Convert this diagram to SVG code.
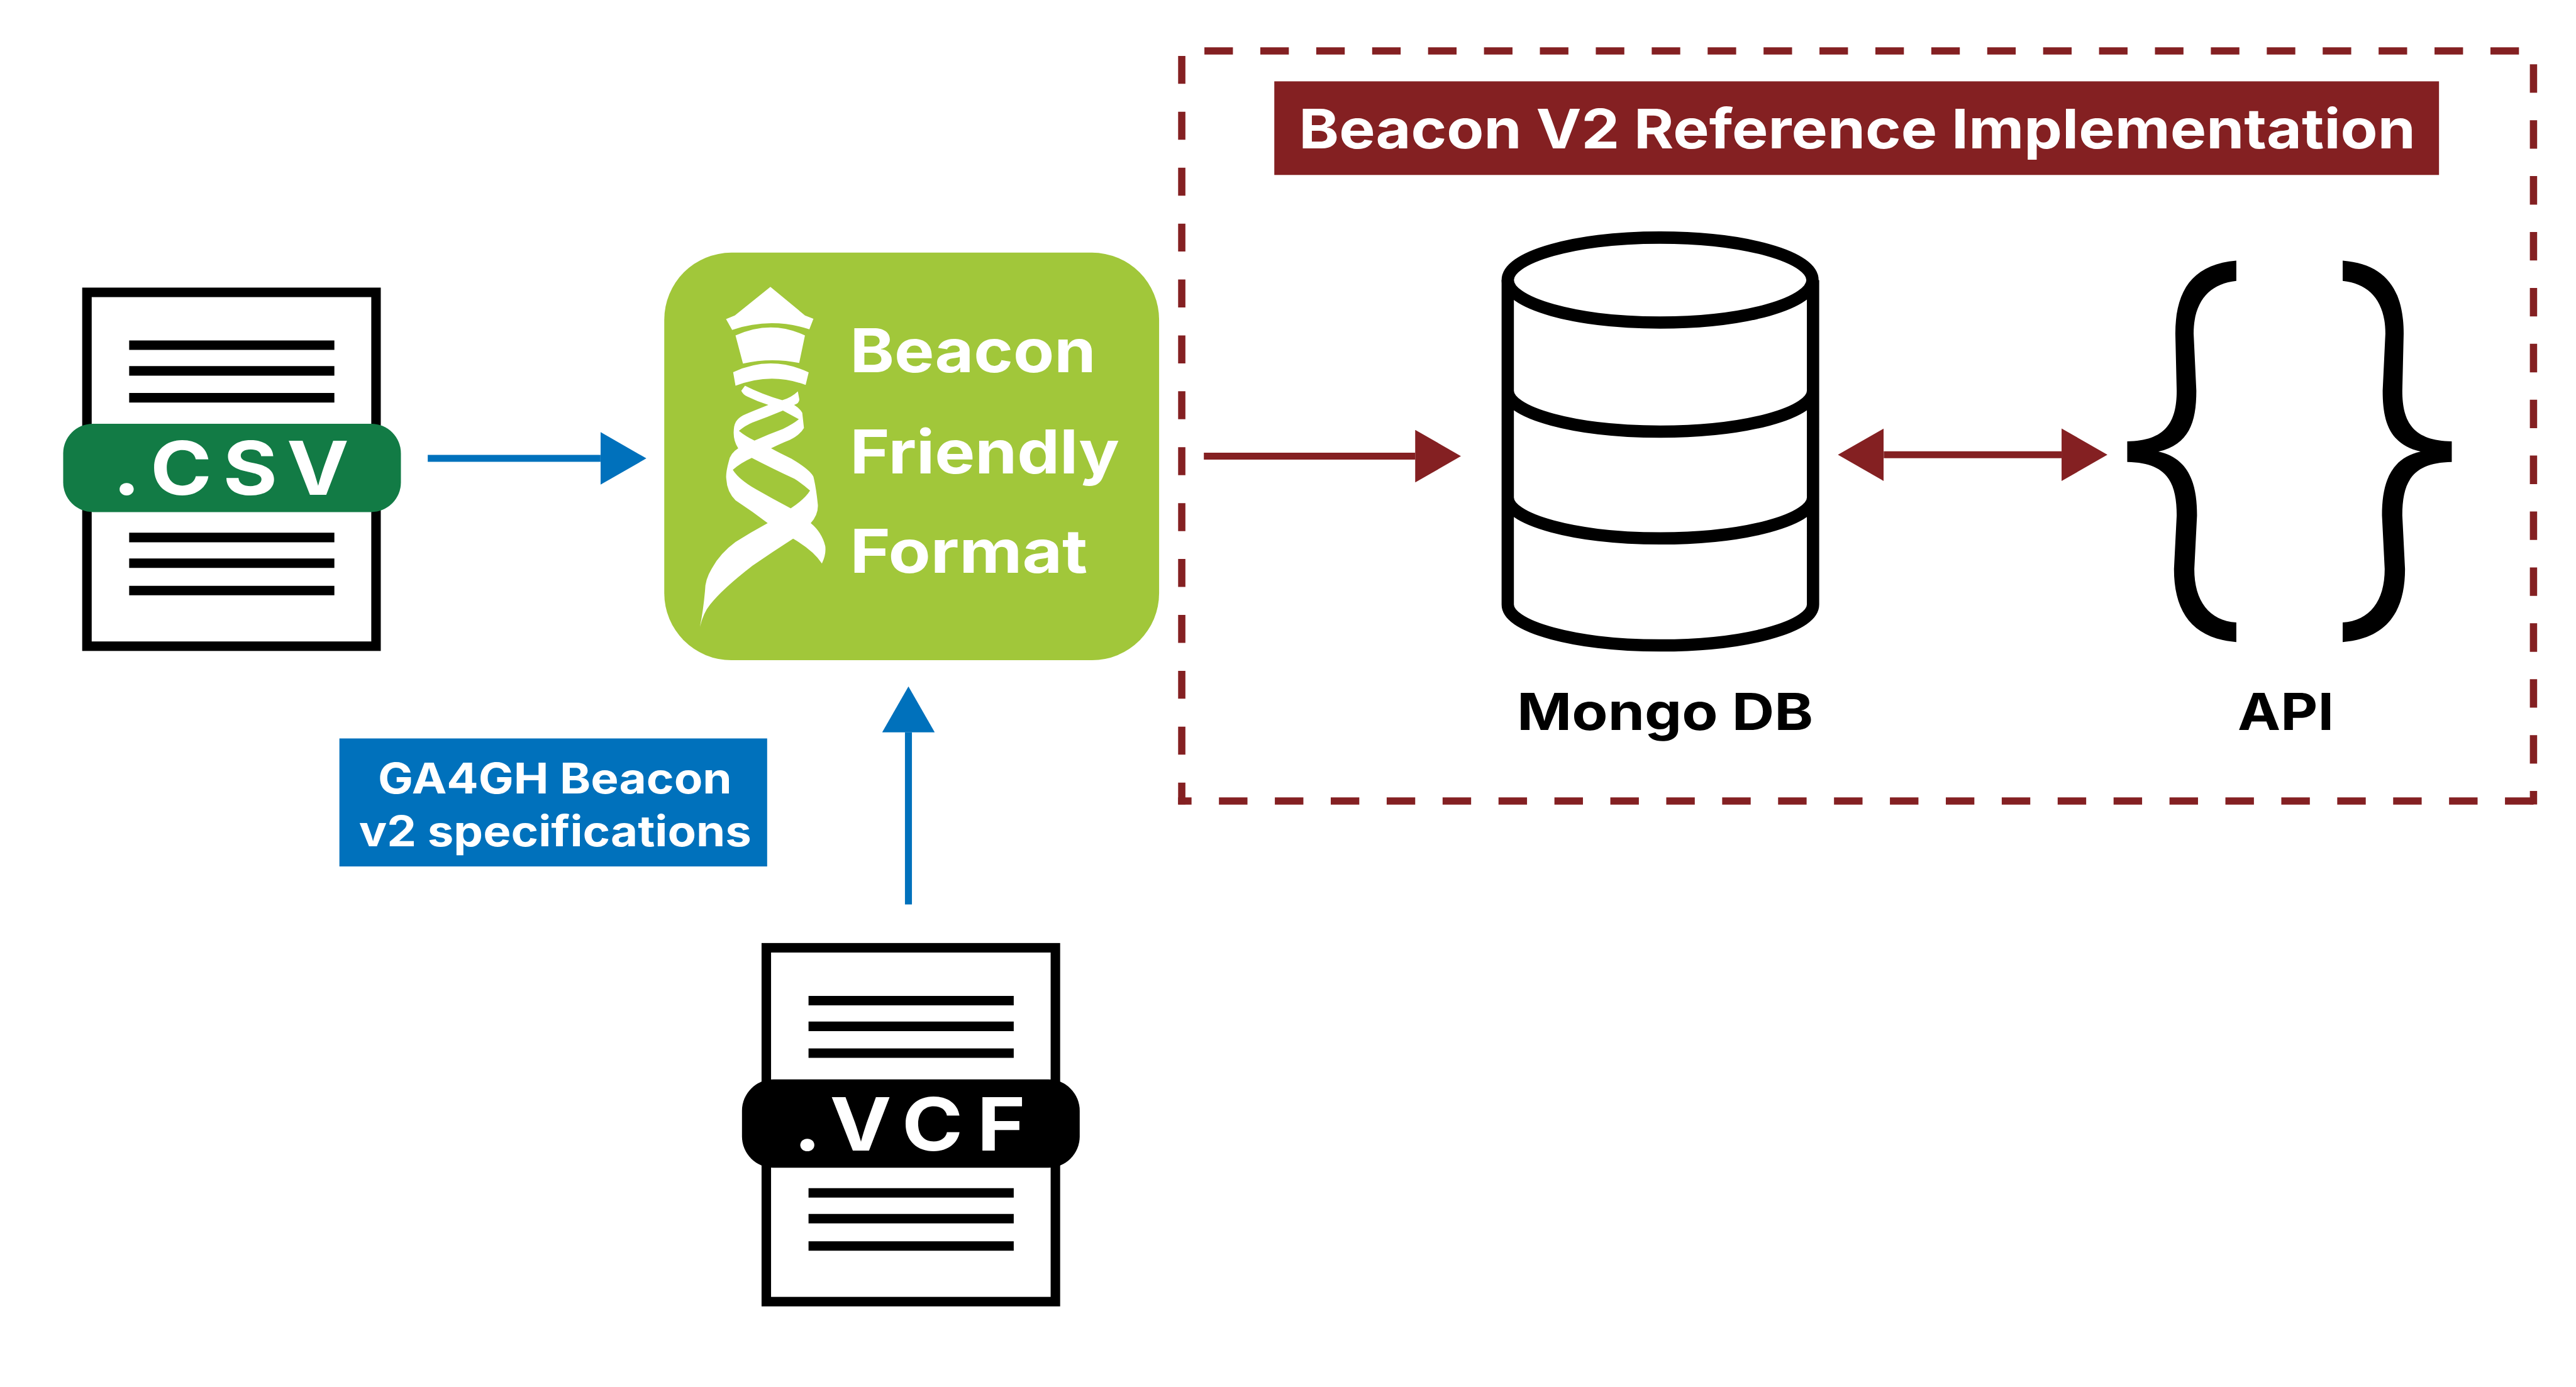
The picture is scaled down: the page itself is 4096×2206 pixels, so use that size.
<svg xmlns="http://www.w3.org/2000/svg" xmlns:xlink="http://www.w3.org/1999/xlink" width="4096" height="2206" viewBox="0 0 4096 2206">
<style>
text{font-family:Inter,"Liberation Sans",sans-serif;font-weight:700}
.w{fill:#fff}.k{fill:#000}
.b{stroke:#0071BC;stroke-width:12.5;fill:none}
.r{stroke:#842022;stroke-width:12.5;fill:none}
.dash{stroke:#842022;stroke-width:13;fill:none}
.cyl{stroke:#000;stroke-width:22;fill:none}
</style>
<defs>
<marker id="hb" markerUnits="userSpaceOnUse" viewBox="0 0 82 94" refX="0" refY="47" markerWidth="82" markerHeight="94" orient="auto-start-reverse"><path d="M0 0L82 47L0 94Z" fill="#0071BC"/></marker>
<marker id="hr" markerUnits="userSpaceOnUse" viewBox="0 0 82 94" refX="0" refY="47" markerWidth="82" markerHeight="94" orient="auto-start-reverse"><path d="M0 0L82 47L0 94Z" fill="#842022"/></marker>
<g id="doc">
<rect x="155.5" y="523" width="517" height="633" fill="#fff" stroke="#000" stroke-width="17"/>
<path d="M231 609h367v17h-367zM231 655h367v17h-367zM231 703h367v17h-367zM231 953h367v17h-367zM231 999h367v17h-367zM231 1048h367v17h-367z"/>
</g>
<path id="brace" d="M1155 135C1090 145 1065 220 1065 340L1067 500C1067 590 1050 640 994 642L994 700C1050 702 1067 750 1067 850L1063 1000C1063 1120 1090 1195 1155 1205L1155 1150C1115 1145 1093 1090 1093 1000L1097 850C1097 760 1085 690 1040 671C1085 650 1096 590 1096 500L1092 340C1092 250 1115 200 1155 192Z"/>
</defs>
<g transform="scale(0.88908)">
<g id="frame">
<path class="dash" stroke-dasharray="51 49" d="M2154 91H4506"/>
<path class="dash" stroke-dasharray="50 50" d="M2113.5 100V1439"/>
<path class="dash" stroke-dasharray="51 49" d="M4531 115V1439"/>
<path class="dash" stroke-dasharray="51 49" stroke-dashoffset="27" d="M2107 1433H4538"/>
</g>
<g id="title">
<rect x="2279" y="145.5" width="2083" height="167.5" fill="#842022"/>
<text class="w" x="2323" y="266" font-size="98" textLength="1997" lengthAdjust="spacingAndGlyphs">Beacon V2 Reference Implementation</text>
</g>
<g id="csv">
<use href="#doc"/>
<rect x="113" y="758" width="604" height="158" rx="53" fill="#127B45"/>
<text class="w" transform="translate(0 885) scale(1.12 1)" font-size="133" x="180 240 356 458" y="0">.CSV</text>
</g>
<g id="vcf">
<use href="#doc" transform="translate(1215 1172.5)"/>
<rect x="1327" y="1931" width="604" height="158" rx="56" fill="#000"/>
<text class="w" transform="translate(0 2058) scale(1.12 1)" font-size="132" x="1267 1325 1440 1560" y="0">.VCF</text>
</g>
<g id="bff">
<rect x="1188" y="452" width="885" height="729" rx="120" fill="#A1C73A"/>
<g transform="translate(1170 430) scale(.6059 .4974)" fill="#fff">
<path d="M343 167L445 270L470 282L458 320Q345 275 230 322L212 283L238 270Z"/>
<path d="M240 342Q345 284 445 342L428 441Q345 420 262 443Z"/>
<path d="M233 474Q345 411 456 475L447 520Q345 473 240 523Z"/>
<path fill-rule="evenodd" d="M268 523L257 541Q262 555 275 562Q305 580 337 592Q300 610 270 625Q240 640 236 670Q230 715 248 748Q225 765 220 795Q210 840 213 860Q215 905 240 935Q290 975 335 1017Q285 1050 240 1085Q195 1125 170 1180Q150 1220 150 1260Q145 1330 135 1390Q145 1340 165 1310Q200 1255 290 1170Q350 1120 410 1073Q470 1115 495 1162Q508 1130 505 1100Q495 1050 462 1017Q485 985 483 950Q478 890 470 850Q460 825 405 785Q370 765 345 748Q375 730 400 718Q430 700 442 675L437 620Q430 605 413 592Q430 585 428 570L424 543Q405 565 378 575Q320 555 268 523ZM380 612L427 643Q410 660 380 678Q335 698 296 720Q270 705 250 685Q270 665 290 655Q335 635 380 612ZM288 782Q345 818 415 858Q440 878 460 900Q445 930 403 964Q350 930 300 895Q250 860 232 825Q255 800 288 782Z"/>
</g>
<text class="w" x="1520" y="666" font-size="108" textLength="440" lengthAdjust="spacingAndGlyphs">Beacon</text>
<text class="w" x="1520" y="847" font-size="108" textLength="482" lengthAdjust="spacingAndGlyphs">Friendly</text>
<text class="w" x="1520" y="1025" font-size="108" textLength="425" lengthAdjust="spacingAndGlyphs">Format</text>
</g>
<g id="ga4gh">
<rect x="607" y="1321" width="765" height="229" fill="#0071BC"/>
<text class="w" x="676" y="1420" font-size="76" textLength="633" lengthAdjust="spacingAndGlyphs">GA4GH Beacon</text>
<text class="w" x="642" y="1514" font-size="76" textLength="702" lengthAdjust="spacingAndGlyphs">v2 specifications</text>
</g>
<g id="mongo">
<ellipse class="cyl" cx="2969" cy="501" rx="272.5" ry="76"/>
<path class="cyl" d="M2696.5 501V1081.5A272.5 73 0 0 0 3242.5 1081.5V501M2696.5 699A272.5 73 0 0 0 3242.5 699M2696.5 890A272.5 73 0 0 0 3242.5 890"/>
<text class="k" x="2713" y="1306" font-size="92" textLength="530" lengthAdjust="spacingAndGlyphs">Mongo DB</text>
</g>
<g id="api">
<g transform="translate(2600 380) scale(1.2117 .6378)"><use href="#brace"/><use href="#brace" transform="translate(2467 0) scale(-1 1)"/></g>
<text class="k" x="4002" y="1306" font-size="92" textLength="172" lengthAdjust="spacingAndGlyphs">API</text>
</g>
<g id="connectors">
<path class="b" marker-end="url(#hb)" d="M765 820H1074"/>
<path class="b" marker-end="url(#hb)" d="M1624.7 1618V1310"/>
<path class="r" marker-end="url(#hr)" d="M2153 816H2531"/>
<path class="r" marker-start="url(#hr)" marker-end="url(#hr)" d="M3369 813.5H3687"/>
</g>
</g>
</svg>
